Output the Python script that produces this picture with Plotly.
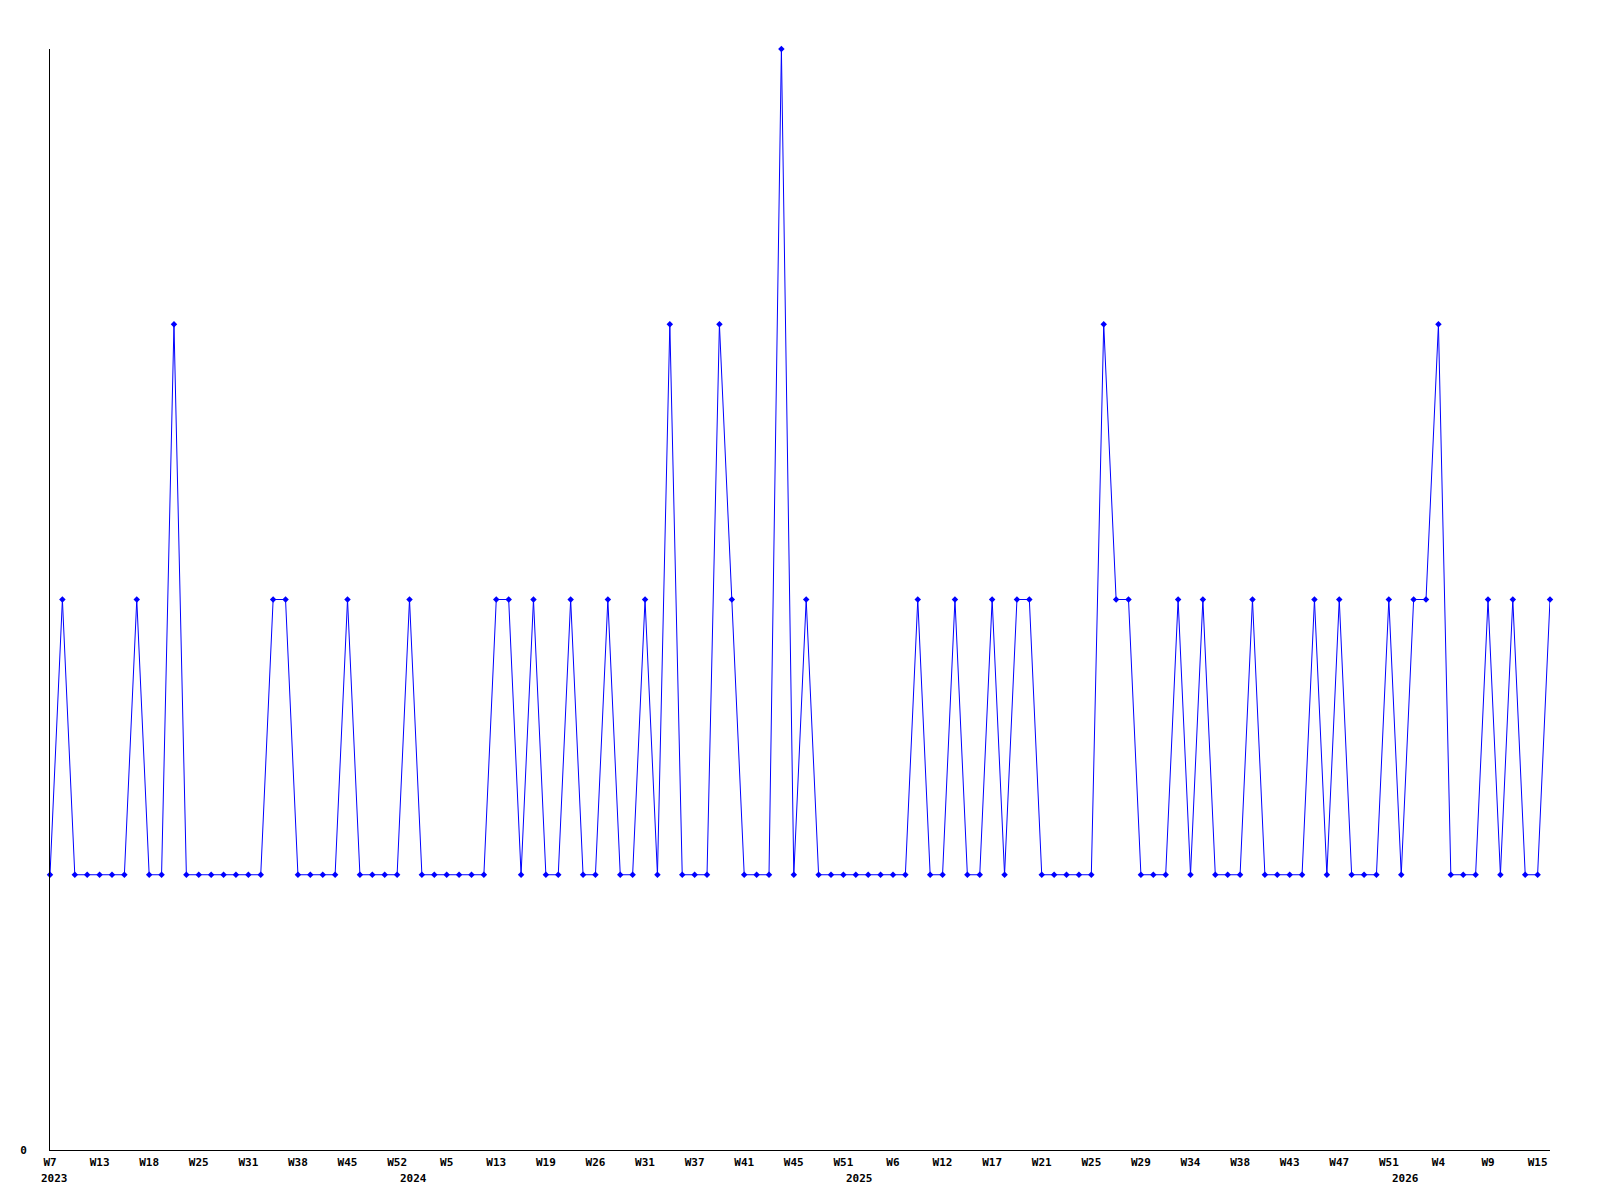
import plotly.graph_objects as go

# weekly values, one per point (122 points)
values = [
    1, 2, 1, 1, 1, 1, 1, 2, 1, 1,
    3, 1, 1, 1, 1, 1, 1, 1, 2, 2,
    1, 1, 1, 1, 2, 1, 1, 1, 1, 2,
    1, 1, 1, 1, 1, 1, 2, 2, 1, 2,
    1, 1, 2, 1, 1, 2, 1, 1, 2, 1,
    3, 1, 1, 1, 3, 2, 1, 1, 1, 4,
    1, 2, 1, 1, 1, 1, 1, 1, 1, 1,
    2, 1, 1, 2, 1, 1, 2, 1, 2, 2,
    1, 1, 1, 1, 1, 3, 2, 2, 1, 1,
    1, 2, 1, 2, 1, 1, 1, 2, 1, 1,
    1, 1, 2, 1, 2, 1, 1, 1, 2, 1,
    2, 2, 3, 1, 1, 1, 2, 1, 2, 1,
    1, 2,
]

# week tick labels, shown on every 4th point
week_labels = [
    "W7", "W13", "W18", "W25", "W31", "W38", "W45", "W52",
    "W5", "W13", "W19", "W26", "W31", "W37", "W41", "W45",
    "W51", "W6", "W12", "W17", "W21", "W25", "W29", "W34",
    "W38", "W43", "W47", "W51", "W4", "W9", "W15",
]
tick_step = 4

# year labels and the point index where each year starts
years = ["2023", "2024", "2025", "2026"]
year_start_index = [0, 29, 65, 109]

x = list(range(len(values)))
tickvals = [i * tick_step for i in range(len(week_labels))]

font = dict(family="DejaVu Sans Mono", size=11, color="black", weight="bold")

fig = go.Figure()
fig.add_trace(go.Scatter(
    x=x, y=values, mode="lines+markers",
    line=dict(color="#0000FF", width=1),
    marker=dict(color="#0000FF", size=5, symbol="diamond"),
    showlegend=False, hoverinfo="x+y", cliponaxis=False,
))

for yr, idx in zip(years, year_start_index):
    fig.add_annotation(
        x=idx, y=0, xref="x", yref="paper", text=yr, showarrow=False,
        yanchor="top", xanchor="center", yshift=-20, xshift=4, font=font,
    )

fig.update_layout(
    width=1600, height=1200,
    margin=dict(l=50, r=50, t=49, b=50),
    paper_bgcolor="white", plot_bgcolor="white",
    font=font,
)
fig.update_xaxes(
    range=[0, len(values) - 1], tickmode="array", tickvals=tickvals,
    ticktext=week_labels, showgrid=False, zeroline=False,
    showline=True, linecolor="black", linewidth=1, ticks="",
    tickfont=font, ticklabelstandoff=2, automargin=False,
)
fig.update_yaxes(
    range=[0, 4], tickmode="array", tickvals=[0], ticktext=["0"],
    showgrid=False, zeroline=False, showline=True, linecolor="black",
    linewidth=1, ticks="", tickfont=font, ticklabelstandoff=20,
    automargin=False,
)

fig.write_html(
    "out.html",
    config={"displayModeBar": False},
    post_script="document.body.style.margin='0';document.body.style.padding='0';",
)
